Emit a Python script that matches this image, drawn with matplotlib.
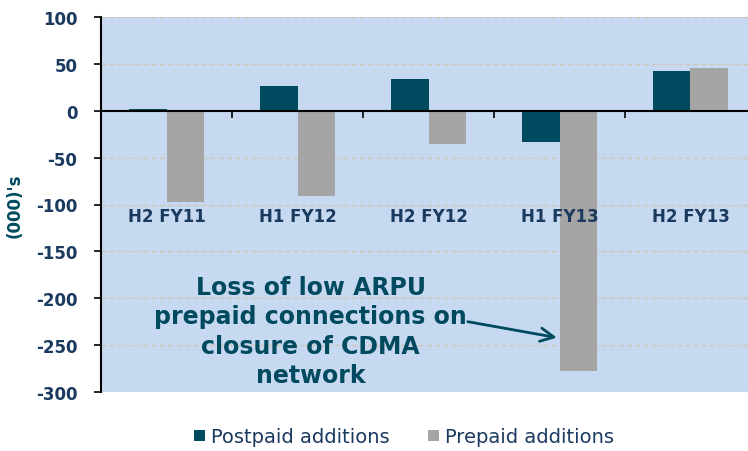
import matplotlib.pyplot as plt
import numpy as np

plt.rcParams['font.family'] = ['DejaVu Sans']

# data (000's)
periodos = ['H2 FY11', 'H1 FY12', 'H2 FY12', 'H1 FY13', 'H2 FY13']
postpaid = [2, 26, 34, -33, 42]
prepaid = [-97, -91, -35, -278, 46]
yticks = [100, 50, 0, -50, -100, -150, -200, -250, -300]

cor_texto = '#1B3A60'
cor_post = '#004A60'
cor_pre = '#A5A5A5'

fig = plt.figure(figsize=(7.48, 4.52), dpi=100)
ax = fig.add_axes([101/748, 59/452, 655/748, 375/452])
ax.set_facecolor('#C6D9F0')

x = np.arange(len(periodos))
w = 0.29
ax.bar(x - w/2, postpaid, w, color=cor_post, label='Postpaid additions', zorder=3)
ax.bar(x + w/2, prepaid, w, color=cor_pre, label='Prepaid additions', zorder=3)

ax.set_xlim(-0.5, len(periodos) - 0.5)
ax.set_ylim(-300, 100)
ax.set_yticks(yticks)
ax.set_yticklabels([str(v) for v in yticks], fontweight='bold', fontsize=12)
ax.tick_params(axis='y', direction='out', length=5, width=1.2, colors='black',
               labelcolor=cor_texto, pad=12)

# grade tracejada
for v in yticks:
    if v != 0:
        ax.axhline(v, color='#CEC6B8', lw=1, ls=(0, (4, 2)), zorder=1)

# eixo x na linha do zero
ax.spines['bottom'].set_position(('data', 0))
ax.spines['bottom'].set_linewidth(1.5)
ax.spines['bottom'].set_zorder(4)
ax.spines['top'].set_visible(False)
ax.spines['right'].set_visible(False)
ax.spines['left'].set_linewidth(1.5)
ax.set_xticks(np.arange(len(periodos) + 1) - 0.5)
ax.set_xticklabels([])
ax.tick_params(axis='x', direction='out', length=5, width=1.2)

for i, p in enumerate(periodos):
    ax.text(i, -103, p, ha='center', va='top', fontsize=12, fontweight='bold',
            color=cor_texto)

ax.set_ylabel("(000)'s", fontweight='bold', color=cor_post, fontsize=12, labelpad=9)

# anotacao
ax.text(1.10, -235, 'Loss of low ARPU\nprepaid connections on\nclosure of CDMA\nnetwork',
        ha='center', va='center', fontsize=17, fontweight='bold', color=cor_post,
        linespacing=1.28)
ax.annotate('', xy=(2.98, -242), xytext=(2.30, -225),
            arrowprops=dict(arrowstyle='->', color=cor_post, lw=2,
                            mutation_scale=24, shrinkA=0, shrinkB=0))

leg = fig.legend(loc='center', bbox_to_anchor=(404/748, 1 - 438/452), ncol=2, frameon=False,
                 fontsize=14, handlelength=0.55, handleheight=0.55, handletextpad=0.3,
                 columnspacing=2.0)
for t in leg.get_texts():
    t.set_color(cor_texto)

plt.savefig('out.png', dpi=100)
plt.close()
